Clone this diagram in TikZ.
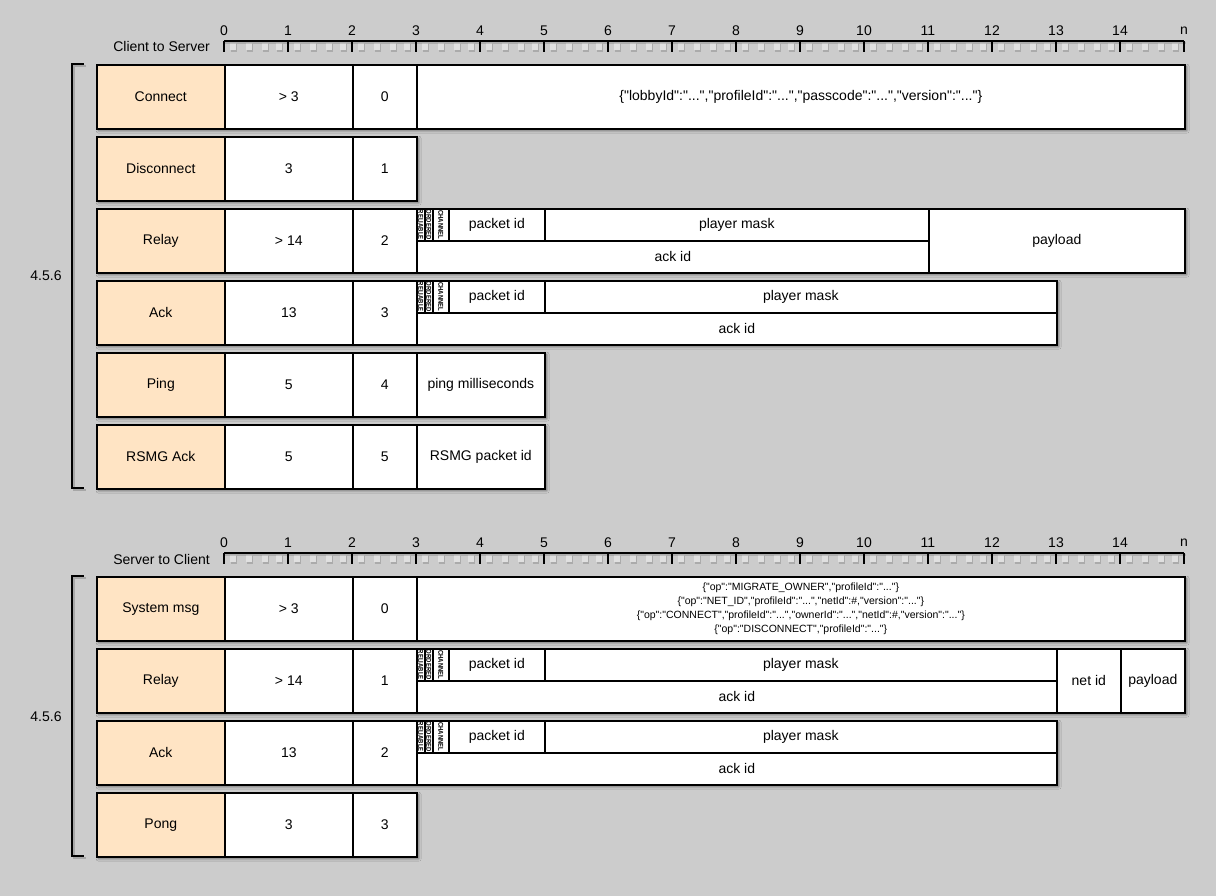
\documentclass[tikz,border=0pt]{standalone}
\usepackage{fontspec}
\setmainfont{Liberation Sans}[Ligatures=TeXOff]
\usetikzlibrary{shadows.blur}
\definecolor{bg}{RGB}{204,204,204}
\definecolor{peach}{RGB}{255,228,196}
\definecolor{minorsq}{RGB}{224,224,224}
\tikzset{
  rowbg/.style={anchor=north west, inner sep=0pt, fill=white, draw=none,
    blur shadow={shadow xshift=2.5pt, shadow yshift=-2.5pt, shadow blur radius=2.5pt, shadow opacity=45}},
  cell/.style={anchor=north west, inner sep=0pt, draw=black, line width=1.6pt, fill=white,
    font=\fontsize{14}{16}\selectfont, align=center},
  lbl/.style={cell, fill=peach},
  wh/.style 2 args={minimum width=#1, minimum height=#2},
  flagtxt/.style={rotate=-90, inner sep=0pt, font=\fontsize{7}{7}\selectfont\bfseries},
  rulerline/.style={line width=1.8pt, black},
  ticknum/.style={font=\fontsize{14}{16}\selectfont, inner sep=0pt},
  bracket/.style={line width=1.8pt, black},
  bracketsh/.style={line width=2.5pt, black, opacity=0.18},
  sysfont/.style={font=\fontsize{10.5}{14}\selectfont},
}
\newcommand{\flagword}[1]{\scalebox{0.85}[1]{#1}}
\newcommand{\myruler}[2]{%
  \foreach \i in {0,...,14} {
    \foreach \o in {9,25,41,55} {
      \fill[black, opacity=0.16] (224+64*\i+\o-2, #1+3) rectangle ++(6,8);
      \fill[minorsq] (224+64*\i+\o-3, #1+2) rectangle ++(6,7);
    }
  }
  \draw[black, opacity=0.15, line width=2pt] (225,#1+2) -- (1186,#1+2);
  \draw[rulerline] (224,#1) -- (1184,#1);
  \foreach \i in {0,...,15} {
    \draw[rulerline] (224+64*\i,#1) -- ++(0,11);
  }
  \foreach \i in {0,...,14} {
    \node[ticknum] (#2n\i) at (224+64*\i, #1-10) {\i};
  }
  \node[ticknum] (#2nn) at (1184, #1-10) {n};
}
\begin{document}
\begin{tikzpicture}[x=1pt,y=-1pt]
\fill[bg] (0,0) rectangle (1216,896);
\useasboundingbox (0,0) rectangle (1216,896);

% ---------------- Client to Server ----------------
\myruler{41}{a}
\node[ticknum, anchor=east] (cts) at (210,46) {Client to Server};

% bracket
\coordinate (b1a) at (84,64); \coordinate (b1b) at (72,64);
\coordinate (b1c) at (72,488); \coordinate (b1d) at (84,488);
\draw[bracketsh] ([shift={(2,2)}]b1a) -- ([shift={(2,2)}]b1b) -- ([shift={(2,2)}]b1c) -- ([shift={(2,2)}]b1d);
\draw[bracket] (b1a) -- (b1b) -- (b1c) -- (b1d);
\node[ticknum] (ver1) at (46,276) {4.5.6};

% Connect
\node[rowbg, wh={1088}{64}] (c1bg) at (96,64) {};
\node[lbl, wh={128}{64}] (c1l) at (96,64) {Connect};
\node[cell, wh={128}{64}] (c1n) at (224,64) {> 3};
\node[cell, wh={64}{64}] (c1i) at (352,64) {0};
\node[cell, wh={768}{64}] (c1d) at (416,64) {\{"lobbyId":"...","profileId":"...","passcode":"...","version":"..."\}};

% Disconnect
\node[rowbg, wh={320}{64}] (c2bg) at (96,136) {};
\node[lbl, wh={128}{64}] (c2l) at (96,136) {Disconnect};
\node[cell, wh={128}{64}] (c2n) at (224,136) {3};
\node[cell, wh={64}{64}] (c2i) at (352,136) {1};

% Relay
\node[rowbg, wh={1088}{64}] (c3bg) at (96,208) {};
\node[lbl, wh={128}{64}] (c3l) at (96,208) {Relay};
\node[cell, wh={128}{64}] (c3n) at (224,208) {> 14};
\node[cell, wh={64}{64}] (c3i) at (352,208) {2};
\node[cell, wh={8}{32}] (c3f1) at (416,208) {};
\node[cell, wh={8}{32}] (c3f2) at (424,208) {};
\node[cell, wh={16}{32}] (c3f3) at (432,208) {};
\node[flagtxt] at (c3f1.center) {\flagword{RELIABLE}};
\node[flagtxt] at (c3f2.center) {\flagword{ORDERED}};
\node[flagtxt] at (c3f3.center) {\flagword{CHANNEL}};
\node[cell, wh={96}{32}] (c3p) at (448,208) {packet id};
\node[cell, wh={384}{32}] (c3m) at (544,208) {player mask};
\node[cell, wh={512}{32}] (c3a) at (416,240) {ack id};
\node[cell, wh={256}{64}] (c3y) at (928,208) {payload};

% Ack
\node[rowbg, wh={960}{64}] (c4bg) at (96,280) {};
\node[lbl, wh={128}{64}] (c4l) at (96,280) {Ack};
\node[cell, wh={128}{64}] (c4n) at (224,280) {13};
\node[cell, wh={64}{64}] (c4i) at (352,280) {3};
\node[cell, wh={8}{32}] (c4f1) at (416,280) {};
\node[cell, wh={8}{32}] (c4f2) at (424,280) {};
\node[cell, wh={16}{32}] (c4f3) at (432,280) {};
\node[flagtxt] at (c4f1.center) {\flagword{RELIABLE}};
\node[flagtxt] at (c4f2.center) {\flagword{ORDERED}};
\node[flagtxt] at (c4f3.center) {\flagword{CHANNEL}};
\node[cell, wh={96}{32}] (c4p) at (448,280) {packet id};
\node[cell, wh={512}{32}] (c4m) at (544,280) {player mask};
\node[cell, wh={640}{32}] (c4a) at (416,312) {ack id};

% Ping
\node[rowbg, wh={448}{64}] (c5bg) at (96,352) {};
\node[lbl, wh={128}{64}] (c5l) at (96,352) {Ping};
\node[cell, wh={128}{64}] (c5n) at (224,352) {5};
\node[cell, wh={64}{64}] (c5i) at (352,352) {4};
\node[cell, wh={128}{64}] (c5d) at (416,352) {ping milliseconds};

% RSMG Ack
\node[rowbg, wh={448}{64}] (c6bg) at (96,424) {};
\node[lbl, wh={128}{64}] (c6l) at (96,424) {RSMG Ack};
\node[cell, wh={128}{64}] (c6n) at (224,424) {5};
\node[cell, wh={64}{64}] (c6i) at (352,424) {5};
\node[cell, wh={128}{64}] (c6d) at (416,424) {RSMG packet id};

% ---------------- Server to Client ----------------
\myruler{553}{b}
\node[ticknum, anchor=east] (stc) at (210,559) {Server to Client};

\coordinate (b2a) at (84,576); \coordinate (b2b) at (72,576);
\coordinate (b2c) at (72,856); \coordinate (b2d) at (84,856);
\draw[bracketsh] ([shift={(2,2)}]b2a) -- ([shift={(2,2)}]b2b) -- ([shift={(2,2)}]b2c) -- ([shift={(2,2)}]b2d);
\draw[bracket] (b2a) -- (b2b) -- (b2c) -- (b2d);
\node[ticknum] (ver2) at (46,717) {4.5.6};

% System msg
\node[rowbg, wh={1088}{64}] (s1bg) at (96,576) {};
\node[lbl, wh={128}{64}] (s1l) at (96,576) {System msg};
\node[cell, wh={128}{64}] (s1n) at (224,576) {> 3};
\node[cell, wh={64}{64}] (s1i) at (352,576) {0};
\node[cell, wh={768}{64}, sysfont] (s1d) at (416,576) {\{"op":"MIGRATE\_OWNER","profileId":"..."\}\\
\{"op":"NET\_ID","profileId":"...","netId":\#,"version":"..."\}\\
\{"op":"CONNECT","profileId":"...","ownerId":"...","netId":\#,"version":"..."\}\\
\{"op":"DISCONNECT","profileId":"..."\}};

% Relay
\node[rowbg, wh={1088}{64}] (s2bg) at (96,648) {};
\node[lbl, wh={128}{64}] (s2l) at (96,648) {Relay};
\node[cell, wh={128}{64}] (s2n) at (224,648) {> 14};
\node[cell, wh={64}{64}] (s2i) at (352,648) {1};
\node[cell, wh={8}{32}] (s2f1) at (416,648) {};
\node[cell, wh={8}{32}] (s2f2) at (424,648) {};
\node[cell, wh={16}{32}] (s2f3) at (432,648) {};
\node[flagtxt] at (s2f1.center) {\flagword{RELIABLE}};
\node[flagtxt] at (s2f2.center) {\flagword{ORDERED}};
\node[flagtxt] at (s2f3.center) {\flagword{CHANNEL}};
\node[cell, wh={96}{32}] (s2p) at (448,648) {packet id};
\node[cell, wh={512}{32}] (s2m) at (544,648) {player mask};
\node[cell, wh={640}{32}] (s2a) at (416,680) {ack id};
\node[cell, wh={64}{64}] (s2t) at (1056,648) {net id};
\node[cell, wh={64}{64}] (s2y) at (1120,648) {payload};

% Ack
\node[rowbg, wh={960}{64}] (s3bg) at (96,720) {};
\node[lbl, wh={128}{64}] (s3l) at (96,720) {Ack};
\node[cell, wh={128}{64}] (s3n) at (224,720) {13};
\node[cell, wh={64}{64}] (s3i) at (352,720) {2};
\node[cell, wh={8}{32}] (s3f1) at (416,720) {};
\node[cell, wh={8}{32}] (s3f2) at (424,720) {};
\node[cell, wh={16}{32}] (s3f3) at (432,720) {};
\node[flagtxt] at (s3f1.center) {\flagword{RELIABLE}};
\node[flagtxt] at (s3f2.center) {\flagword{ORDERED}};
\node[flagtxt] at (s3f3.center) {\flagword{CHANNEL}};
\node[cell, wh={96}{32}] (s3p) at (448,720) {packet id};
\node[cell, wh={512}{32}] (s3m) at (544,720) {player mask};
\node[cell, wh={640}{32}] (s3a) at (416,752) {ack id};

% Pong
\node[rowbg, wh={320}{64}] (s4bg) at (96,792) {};
\node[lbl, wh={128}{64}] (s4l) at (96,792) {Pong};
\node[cell, wh={128}{64}] (s4n) at (224,792) {3};
\node[cell, wh={64}{64}] (s4i) at (352,792) {3};
\end{tikzpicture}
\end{document}
